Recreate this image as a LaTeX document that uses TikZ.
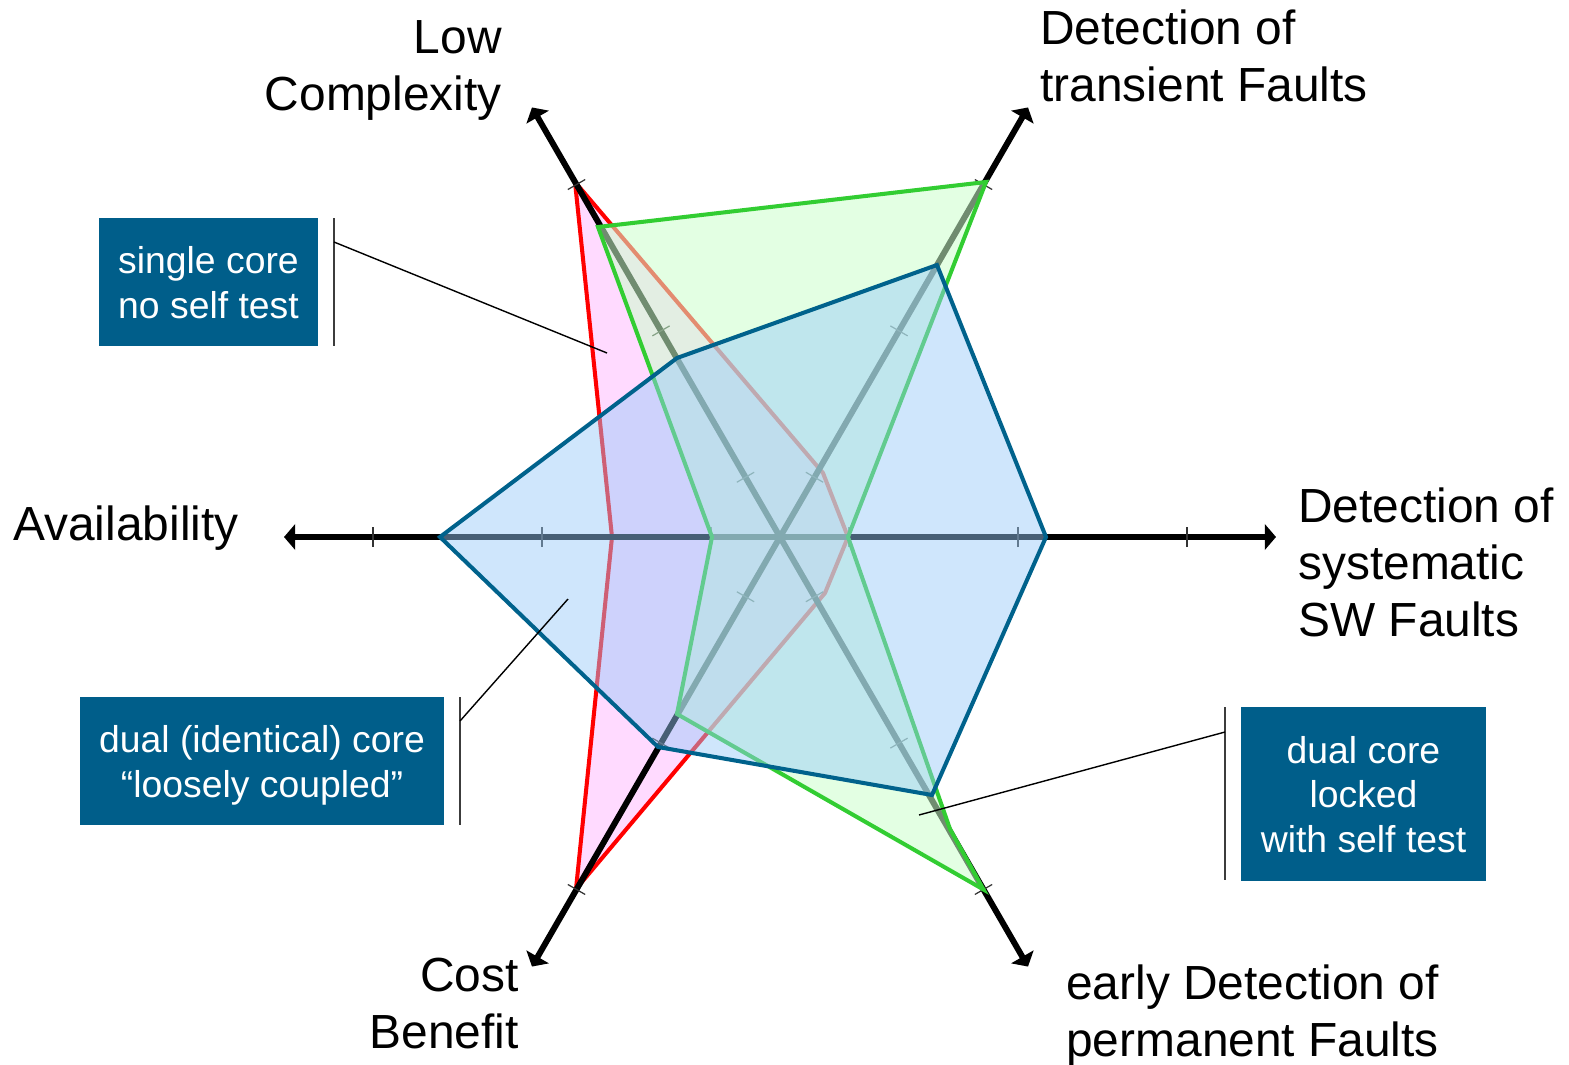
\documentclass[tikz,border=0pt]{standalone}
\usepackage{fontspec}
\setmainfont{Liberation Sans}
\usetikzlibrary{arrows.meta}

\definecolor{pinkfill}{RGB}{255,218,255}
\definecolor{redline}{RGB}{255,0,0}
\definecolor{greenfill}{RGB}{204,255,204}
\definecolor{greenline}{RGB}{50,205,50}
\definecolor{bluefill}{RGB}{152,202,249}
\definecolor{blueline}{RGB}{0,98,140}
\definecolor{boxblue}{RGB}{0,94,138}
\definecolor{bracketgray}{RGB}{60,60,60}

\tikzset{
  axisline/.style={line width=3.4pt, black, -{Triangle[length=6.4pt,width=14.5pt]}},
  tickmark/.style={line width=0.7pt, black!80},
  redpoly/.style={line width=2.3pt, draw=redline, fill=pinkfill},
  greenpoly/.style={line width=2.3pt, draw=greenline, fill=greenfill, fill opacity=0.55},
  bluepoly/.style={line width=2.3pt, draw=blueline, fill=bluefill, fill opacity=0.47},
  axislabel/.style={inner sep=0pt, font=\fontsize{27.25pt}{32pt}\selectfont},
  infobox/.style={draw=none, fill=boxblue, inner sep=0pt, minimum width=#1},
  boxtext/.style={inner sep=0pt, anchor=base, text=white, font=\fontsize{21.25pt}{25.5pt}\selectfont},
  bracket/.style={line width=0.8pt, bracketgray},
  callout/.style={line width=0.8pt, black}
}

\begin{document}
\begin{tikzpicture}[x=0.02cm, y=-0.02cm, line join=miter]
\useasboundingbox (0,0) rectangle (1569,1065);

% chart centre and the six axis tips
\coordinate (C) at (780,537);
\foreach \a/\n in {0/R, 60/UR, 120/UL, 180/L, 240/LL, 300/LR}
  \coordinate (tip\n) at ({780+496*cos(\a)},{537-496*sin(\a)});

% single core, no self test (red) -- lies under the axes
\draw[redpoly] (575,182) -- (823,473) -- (848,537) -- (825,593)
  -- (576,889) -- (612,537) -- cycle;

% axes with their scale ticks
\foreach \n in {R, UR, UL, L, LL, LR}
  \draw[axisline] (C) -- (tip\n);
\foreach \a in {0,60,...,300}
  \foreach \r in {69,238,407}
    \draw[tickmark]
      ({780+\r*cos(\a)+10*sin(\a)},{537-\r*sin(\a)+10*cos(\a)}) --
      ({780+\r*cos(\a)-10*sin(\a)},{537-\r*sin(\a)-10*cos(\a)});

% dual core locked with self test (green)
\draw[greenpoly] (598,227) -- (986,182) -- (848,537) -- (950,829)
  -- (983.5,889.5) -- (677,714) -- (712,537) -- cycle;

% dual (identical) core, loosely coupled (blue)
\draw[bluepoly] (677,358) -- (937,265) -- (1046,537) -- (932,795)
  -- (658,747) -- (440,537) -- cycle;

% axis labels
\node[axislabel, anchor=base east] (lowA) at (502,53) {Low};
\node[axislabel, anchor=base east] (lowB) at (502,110) {Complexity};
\node[axislabel, anchor=base west] (trA) at (1040,44) {Detection of};
\node[axislabel, anchor=base west] (trB) at (1040,101) {transient Faults};
\node[axislabel, anchor=base west] (av) at (13,540) {Availability};
\node[axislabel, anchor=base west] (swA) at (1298,522) {Detection of};
\node[axislabel, anchor=base west] (swB) at (1298,579) {systematic};
\node[axislabel, anchor=base west] (swC) at (1298,636) {SW Faults};
\node[axislabel, anchor=base east] (cbA) at (519,991) {Cost};
\node[axislabel, anchor=base east] (cbB) at (519,1048) {Benefit};
\node[axislabel, anchor=base west] (pmA) at (1066,999) {early Detection of};
\node[axislabel, anchor=base west] (pmB) at (1066,1056) {permanent Faults};

% legend boxes
\node[infobox=219*0.02cm, minimum height=128*0.02cm] (box1) at (208.5,282) {};
\node[boxtext] (box1a) at (208.5,273) {single core};
\node[boxtext] (box1b) at (208.5,318) {no self test};

\node[infobox=364*0.02cm, minimum height=128*0.02cm] (box2) at (262,761) {};
\node[boxtext] (box2a) at (262,752) {dual (identical) core};
\node[boxtext] (box2b) at (262,797) {“loosely coupled”};

\node[infobox=245*0.02cm, minimum height=174*0.02cm] (box3) at (1363.5,794) {};
\node[boxtext] (box3a) at (1363.5,763) {dual core};
\node[boxtext] (box3b) at (1363.5,807) {locked};
\node[boxtext] (box3c) at (1363.5,852) {with self test};

% brackets and pointer lines
\coordinate (br1t) at (334,218);
\coordinate (br1b) at (334,346);
\coordinate (br1p) at (334,242);
\coordinate (pt1) at (607,353);
\draw[bracket] (br1t) -- (br1b);
\draw[callout] (br1p) -- (pt1);

\coordinate (br2t) at (460,697);
\coordinate (br2b) at (460,825);
\coordinate (br2p) at (460,721);
\coordinate (pt2) at (568,599);
\draw[bracket] (br2t) -- (br2b);
\draw[callout] (br2p) -- (pt2);

\coordinate (br3t) at (1225,707);
\coordinate (br3b) at (1225,880);
\coordinate (br3p) at (1225,732);
\coordinate (pt3) at (919,815);
\draw[bracket] (br3t) -- (br3b);
\draw[callout] (br3p) -- (pt3);
\end{tikzpicture}
\end{document}
